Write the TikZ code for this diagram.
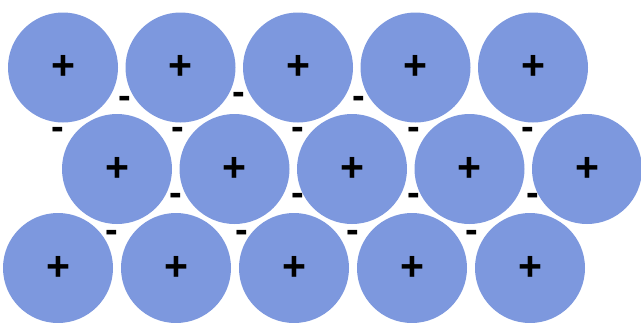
\documentclass[tikz,border=0pt]{standalone}
\usepackage{fontspec}
\setsansfont{Liberation Sans}
\usepackage{tikz}
\usetikzlibrary{positioning}
\definecolor{ionblue}{RGB}{125,152,222}
\tikzset{
  ion/.style     ={circle, fill=ionblue, minimum size=110pt, inner sep=0pt,
                   font=\sffamily\bfseries\fontsize{41}{41}\selectfont},
  electron/.style={inner sep=0pt, anchor=mid,
                   font=\sffamily\bfseries\fontsize{38}{38}\selectfont}
}

\begin{document}
\begin{tikzpicture}[x=1pt, y=-1pt]
  \useasboundingbox (0,0) rectangle (641,322);

  % positive ions, three rows
  \foreach \i in {1,...,5} {
    \node[ion] (top\i) at ({63+117.5*(\i-1)},67.5) {+};
    \node[ion] (mid\i) at ({117+117.5*(\i-1)},169) {+};
    \node[ion] (bot\i) at ({58+118*(\i-1)},268) {+};
  }

  % free electrons in the gaps
  \foreach \x/\y [count=\n] in {125/106, 239/102, 359/106,
                                 58/137, 178/137, 298/137, 414/137, 528/137,
                                 176/203, 298/203, 414/203, 533/203,
                                 112/240, 242/240, 353/240, 472/240}
    \node[electron] (e\n) at (\x,\y) {-};
\end{tikzpicture}
\end{document}
